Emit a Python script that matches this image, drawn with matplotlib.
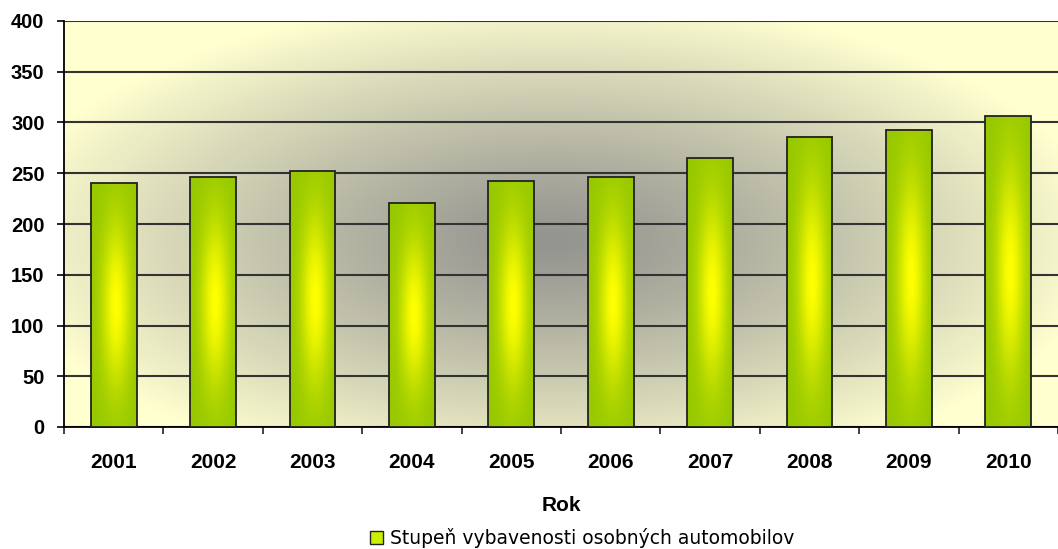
import numpy as np
import matplotlib.pyplot as plt
from matplotlib.patches import Rectangle

# data
roky = ['2001', '2002', '2003', '2004', '2005', '2006', '2007', '2008', '2009', '2010']
hodnoty = [240, 246, 252, 221, 242, 246, 265, 286, 293, 306]
nazov_rady = 'Stupeň vybavenosti osobných automobilov'

plt.rcParams['font.family'] = ['Liberation Sans', 'DejaVu Sans']

fig = plt.figure(figsize=(10.58, 5.49), dpi=100)
ax = fig.add_axes([64 / 1058, 1 - 427 / 549, 994 / 1058, 406 / 549])

# pozadie - radialny gradient (svetlo zlta -> siva)
yy, xx = np.mgrid[0:1:300j, 0:1:600j]
r = np.sqrt(((xx - 0.49) / 0.56) ** 2 + ((yy - 0.46) / 0.6) ** 2)
t = np.clip(r, 0, 1) ** 1.2
edge = np.array([255, 255, 208]) / 255
mid = np.array([148, 148, 144]) / 255
bg = mid + (edge - mid) * t[..., None]
ax.imshow(bg, extent=[0, 1, 0, 1], transform=ax.transAxes, aspect='auto',
          origin='lower', zorder=0)

# gradient pre stlpce
green = np.array([150, 200, 0]) / 255
yellow = np.array([255, 255, 0]) / 255
u = np.linspace(0, 1, 60)
v = np.linspace(0, 1, 200)
hx = np.exp(-((u - 0.55) / 0.28) ** 2)
vy = np.exp(-((v - 0.5) / 0.3) ** 2)
w = (hx[None, :] * vy[:, None]) ** 0.8
bar_img = green + (yellow - green) * w[..., None]

x = np.arange(len(roky))
sirka = 0.46
for i, h in enumerate(hodnoty):
    ax.imshow(bar_img, extent=[x[i] - sirka / 2, x[i] + sirka / 2, 0, h],
              aspect='auto', origin='lower', zorder=3)
ax.bar(x, hodnoty, width=sirka, facecolor='none', edgecolor='#222222',
       linewidth=1.3, zorder=4)

ax.set_xlim(-0.5, len(roky) - 0.5)
ax.set_ylim(0, 400)
ax.set_yticks(range(0, 401, 50))
ax.yaxis.grid(True, color='#333333', linewidth=1.5, zorder=1)
ax.set_axisbelow(True)

ax.set_xticks(x)
ax.set_xticklabels(roky, fontsize=15, fontweight='bold')
ax.set_xticks(np.arange(-0.5, len(roky)), minor=True)
ax.tick_params(axis='x', which='major', length=0, pad=19)
ax.tick_params(axis='x', which='minor', length=5, width=1.2, color='#222222')
ax.tick_params(axis='y', length=5, width=1.2, labelsize=14.5, pad=9)
for lab in ax.get_yticklabels():
    lab.set_fontweight('bold')

for s in ['top', 'right']:
    ax.spines[s].set_visible(False)
ax.spines['left'].set_linewidth(1.3)
ax.spines['bottom'].set_linewidth(1.3)

ax.set_xlabel('Rok', fontsize=15, fontweight='bold', labelpad=17)

# legenda
fig.legend([Rectangle((0, 0), 1, 1, facecolor='#ccee00', edgecolor='#222222', linewidth=1)],
           [nazov_rady], loc='center', bbox_to_anchor=(582 / 1058, 1 - 538 / 549),
           frameon=False, handlelength=0.7, handleheight=0.7,
           handletextpad=0.4, borderpad=0, prop={'family': 'DejaVu Sans', 'size': 13.5})

fig.savefig('out.png', dpi=100)
